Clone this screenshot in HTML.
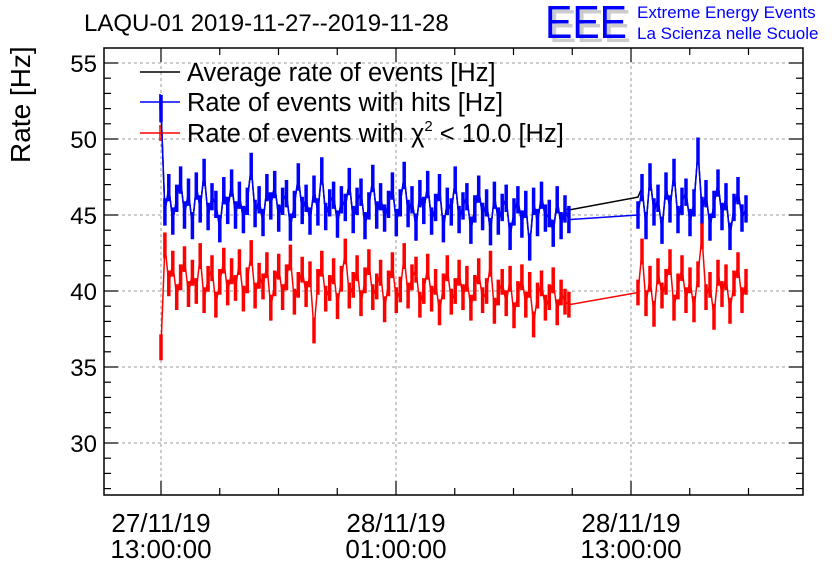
<!DOCTYPE html>
<html><head><meta charset="utf-8"><style>
html,body{margin:0;padding:0;background:#fff;}
svg{display:block;font-family:"Liberation Sans",sans-serif;}
</style></head><body>
<svg id="c" width="836" height="572" viewBox="0 0 836 572">
<rect width="836" height="572" fill="#fff"/>
<g id="grid"></g>
<g id="series"></g>
<rect x="104" y="48" width="699" height="447" fill="none" stroke="#000" stroke-width="1.5"/>
<g id="ticks"></g>
<text x="84" y="31" font-size="24">LAQU-01 2019-11-27--2019-11-28</text>
<text transform="translate(30,163) rotate(-90)" text-anchor="start" font-size="28">Rate [Hz]</text>
<g>
<text x="549" y="42" font-size="46" fill="#ccc" textLength="82" lengthAdjust="spacingAndGlyphs">EEE</text>
<text x="545" y="38" font-size="46" fill="#0000ff" textLength="82" lengthAdjust="spacingAndGlyphs">EEE</text>
<text x="637" y="18" font-size="17" fill="#0000ff">Extreme Energy Events</text>
<text x="637" y="39" font-size="17" fill="#0000ff">La Scienza nelle Scuole</text>
</g>
<g>
<g><line x1="140" y1="72" x2="180" y2="72" stroke="#000" stroke-width="1.5"/><text x="187" y="81" font-size="25.5">Average rate of events [Hz]</text></g>
<g><line x1="140" y1="102" x2="180" y2="102" stroke="#00f" stroke-width="1.5"/><line x1="160" y1="94" x2="160" y2="110" stroke="#00f" stroke-width="1.5"/><text x="187" y="111" font-size="25.5">Rate of events with hits [Hz]</text></g>
<g><line x1="140" y1="133" x2="180" y2="133" stroke="#f00" stroke-width="1.5"/><line x1="160" y1="125" x2="160" y2="141" stroke="#f00" stroke-width="1.5"/><text x="187" y="142" font-size="25.5">Rate of events with χ<tspan font-size="15" dy="-11">2</tspan><tspan dy="11"> &lt; 10.0 [Hz]</tspan></text></g>
</g>
</svg>
<script>
const yTicks=[30,35,40,45,50,55];
const xTickHours=[0,12,24];
const xTickLabels1=["27/11/19","28/11/19","28/11/19"];
const xTickLabels2=["13:00:00","01:00:00","13:00:00"];
const seg1Hours=[0,20.83];
const seg2Hours=[24.36,29.87];
const blue1=[52.0,45.2,46.8,44.6,46.1,47.3,45.0,46.5,44.3,46.9,45.4,47.8,44.9,46.2,45.7,44.1,46.6,45.3,47.1,45.0,46.3,44.7,45.9,48.2,45.1,46.0,44.5,46.8,45.6,47.0,44.8,45.9,46.4,44.2,45.7,47.5,45.3,46.1,44.6,46.7,45.2,47.9,44.9,45.8,46.3,44.4,46.0,45.5,47.2,44.7,45.9,46.5,44.3,45.6,47.4,45.0,46.2,44.8,45.7,46.9,44.5,45.8,47.6,45.1,46.0,44.2,46.4,45.3,47.0,44.6,45.5,46.8,44.1,45.9,45.2,47.3,44.7,45.6,46.2,44.0,45.4,46.7,44.9,45.8,43.9,46.3,44.6,45.5,46.1,43.6,45.2,46.0,44.4,45.7,42.9,45.9,44.5,46.3,44.8,45.1,43.8,46.0,44.3,45.4,44.7];
const blue2=[45.0,46.8,44.3,47.5,45.2,46.1,44.0,46.9,45.4,47.8,44.7,45.9,46.5,44.5,45.8,49.2,45.3,46.4,44.2,45.7,47.1,44.9,46.2,43.6,45.5,46.6,44.8,45.4];
const red1=[36.3,43.0,40.5,41.8,39.6,40.9,42.1,39.8,41.2,40.0,42.3,39.4,40.8,41.5,39.1,40.6,42.0,39.9,41.3,40.2,41.9,39.5,40.7,42.5,39.7,41.0,40.3,41.7,38.9,40.5,41.6,39.6,40.9,42.2,39.3,40.4,41.4,39.8,41.1,37.4,40.6,41.8,39.5,40.2,41.3,39.0,40.8,42.6,39.7,40.4,41.5,39.2,40.7,41.9,39.6,40.3,41.2,38.8,40.5,41.7,39.4,40.1,42.3,39.7,40.9,41.4,39.1,40.0,41.6,39.5,40.6,38.6,40.3,41.5,39.3,40.0,41.2,39.6,40.8,38.9,40.2,41.3,39.4,40.0,41.8,38.7,39.9,40.6,39.2,40.8,38.4,39.8,40.9,39.1,40.4,37.8,39.7,40.5,38.9,39.6,40.7,38.6,39.9,39.3,39.1];
const red2=[39.9,42.6,39.2,40.8,38.5,41.3,39.7,40.6,41.9,38.9,40.3,41.5,39.4,40.7,38.8,41.1,43.6,39.6,40.4,38.3,41.2,39.8,40.9,38.7,40.5,41.7,39.4,40.6];
const avg1=[52.0,45.2,46.8,44.6,46.1,47.3,45.0,46.5,44.3,46.9,45.4,47.8,44.9,46.2,45.7,44.1,46.6,45.3,47.1,45.0,46.3,44.7,45.9,48.2,45.1,46.0,44.5,46.8,45.6,47.0,44.8,45.9,46.4,44.2,45.7,47.5,45.3,46.1,44.6,46.7,45.2,47.9,44.9,45.8,46.3,44.4,46.0,45.5,47.2,44.7,45.9,46.5,44.3,45.6,47.4,45.0,46.2,44.8,45.7,46.9,44.5,45.8,47.6,45.1,46.0,44.2,46.4,45.3,47.0,44.6,45.5,46.8,44.1,45.9,45.2,47.3,44.7,45.6,46.2,44.0,45.4,46.7,44.9,45.8,43.9,46.3,44.6,45.5,46.1,43.6,45.2,46.0,44.4,45.7,42.9,45.9,44.5,46.3,44.8,45.1,43.8,46.0,44.3,45.4,45.33];
const avg2=[46.18,46.8,44.3,47.5,45.2,46.1,44.0,46.9,45.4,47.8,44.7,45.9,46.5,44.5,45.8,49.2,45.3,46.4,44.2,45.7,47.1,44.9,46.2,43.6,45.5,46.6,44.8,45.4];
const blueErr=[0.9];
const redErr=[0.85];

const NS="http://www.w3.org/2000/svg";
const X=h=>161+h*235/12;
const Y=v=>63+(55-v)*15.2;
function mk(tag,attrs,parent){const e=document.createElementNS(NS,tag);for(const k in attrs)e.setAttribute(k,attrs[k]);parent.appendChild(e);return e;}
const grid=document.getElementById('grid'),ticks=document.getElementById('ticks'),ser=document.getElementById('series');
yTicks.forEach(v=>{
 const g=mk('line',{x1:104,x2:803,y1:Y(v),y2:Y(v),stroke:'#999','stroke-dasharray':'3,3','stroke-width':1},grid);
 
 
 const t=mk('text',{x:97,y:Y(v)+9,'text-anchor':'end','font-size':24},ticks);
 t.textContent=v;
 
 
});
for(let v=27;v<=56;v++){
 if(Y(v)<48||Y(v)>495)continue;
 const L=v%5===0?14:7;
 mk('line',{x1:104,x2:104+L,y1:Y(v),y2:Y(v),stroke:'#000','stroke-width':1.2},ticks);
 mk('line',{x1:803-L,x2:803,y1:Y(v),y2:Y(v),stroke:'#000','stroke-width':1.2},ticks);
}
for(let h=-3;h<=33;h+=3){
 const x=X(h);if(x<104||x>803)continue;
 const L=h%12===0?14:7;
 mk('line',{x1:x,x2:x,y1:495,y2:495-L,stroke:'#000','stroke-width':1.2},ticks);
 mk('line',{x1:x,x2:x,y1:48,y2:48+L,stroke:'#000','stroke-width':1.2},ticks);
}
xTickHours.forEach((h,i)=>{
 const g=mk('line',{x1:X(h),x2:X(h),y1:48,y2:495,stroke:'#999','stroke-dasharray':'3,3','stroke-width':1},grid);
 
 
 const t1=mk('text',{x:X(h),y:532,'text-anchor':'middle','font-size':26},ticks);
 t1.textContent=xTickLabels1[i];
 
 
 const t2=mk('text',{x:X(h),y:558,'text-anchor':'middle','font-size':26},ticks);
 t2.textContent=xTickLabels2[i];
 
 
});
function pts(arr,seg){const n=arr.length;return arr.map((v,i)=>[X(seg[0]+(seg[1]-seg[0])*i/(n-1)),Y(v),v]);}
function series(a1,a2,color,name,err){
 const p=pts(a1,seg1Hours).concat(pts(a2,seg2Hours));
 const e=mk('polyline',{points:p.map(q=>q[0].toFixed(1)+','+q[1].toFixed(1)).join(' '),fill:'none',stroke:color,'stroke-width':1.5},ser);
 
 
 if(err){
  let d='';
  p.forEach(q=>{d+='M'+q[0].toFixed(1)+','+Y(q[2]+err[0]).toFixed(1)+'V'+Y(q[2]-err[0]).toFixed(1);});
  const b=mk('path',{d:d,stroke:color,'stroke-width':3.5,fill:'none'},ser);
  
  
 }
}
series(avg1,avg2,'#000','average-rate-line',null);
series(blue1,blue2,'#00f','hits-rate-line',blueErr);
series(red1,red2,'#f00','chi2-rate-line',redErr);
</script>
</body></html>
